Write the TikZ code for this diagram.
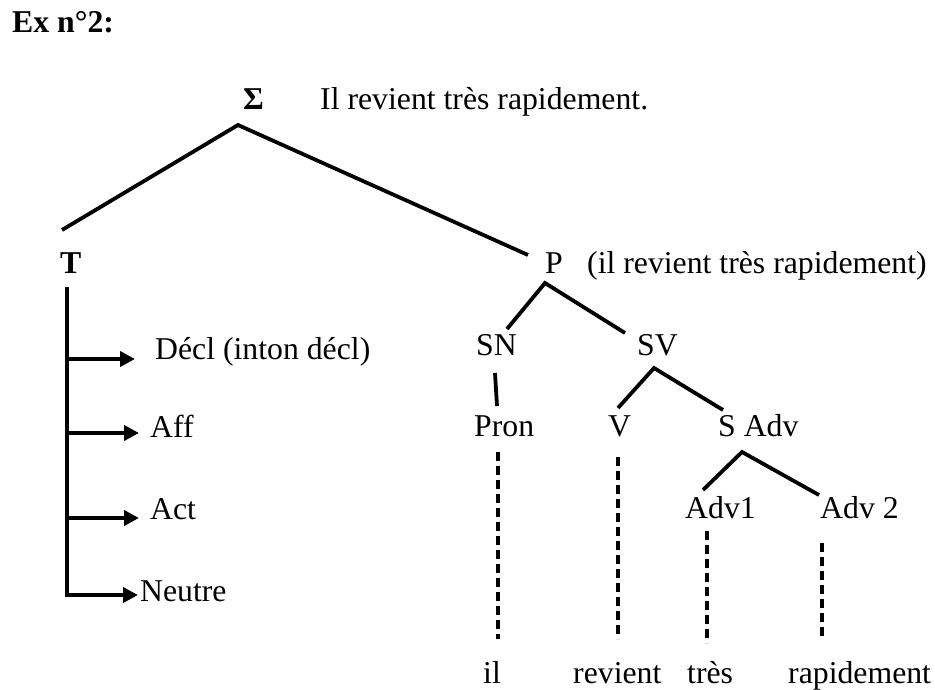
\documentclass[tikz,border=0pt]{standalone}
\usepackage{fontspec}
\setmainfont{Liberation Serif}
\usetikzlibrary{arrows.meta}
\begin{document}
\begin{tikzpicture}[x=1pt,y=-1pt,
  lbl/.style={anchor=base west,inner sep=0pt,font=\fontsize{31.75}{38}\selectfont},
  bl/.style={anchor=base west,inner sep=0pt,font=\fontsize{31.75}{38}\selectfont\bfseries},
  edge/.style={line width=3.8pt},
  dashline/.style={line width=3.6pt,dash pattern=on 9pt off 5pt},
  arr/.style={line width=3.8pt,-{Triangle[length=15pt,width=15pt]}}]
\useasboundingbox (0,0) rectangle (935,690);
% texts
\node[bl] (ex) at (12,33) {Ex n°2:};
\node[bl] (sigma) at (243,110) {Σ};
\node[lbl] (sent) at (320,110) {Il revient très rapidement.};
\node[bl] (T) at (60,273) {T};
\node[lbl] (P) at (545,273) {P};
\node[lbl] (Pgl) at (587,273) {(il revient très rapidement)};
\node[lbl] (SN) at (476,355) {SN};
\node[lbl] (SV) at (637,355) {SV};
\node[lbl] (Pron) at (474,436) {Pron};
\node[lbl] (V) at (608,436) {V};
\node[lbl] (SAdv) at (718,436) {S Adv};
\node[lbl] (Adv1) at (685,518) {Adv1};
\node[lbl] (Adv2) at (820,518) {Adv 2};
\node[lbl] (il) at (483,683) {il};
\node[lbl] (revient) at (573,683) {revient};
\node[lbl] (tres) at (687,683) {très};
\node[lbl] (rapid) at (788,683) {rapidement};
\node[lbl] (decl) at (155,359) {Décl (inton décl)};
\node[lbl] (aff) at (150,437) {Aff};
\node[lbl] (act) at (150,519) {Act};
\node[lbl] (neutre) at (140,601) {Neutre};
% connector ends
\coordinate (sigB) at (238,125);
\coordinate (Tt) at (62,230);
\coordinate (Pt) at (528,255);
\coordinate (Tl) at (67,287);
\coordinate (Tc) at (67,595);
\coordinate (Td) at (67,359);
\coordinate (Ta) at (67,433);
\coordinate (Tac) at (67,518);
\coordinate (declA) at (135,359);
\coordinate (affA) at (139,433);
\coordinate (actA) at (139,518);
\coordinate (neuA) at (138,595);
\coordinate (PB) at (545,283);
\coordinate (SNt) at (507,329);
\coordinate (SVt) at (625,333);
\coordinate (SNb) at (495,373);
\coordinate (Pront) at (497,406);
\coordinate (SVb) at (654,368);
\coordinate (Vt) at (618,408);
\coordinate (SAt) at (723,410);
\coordinate (SAb) at (742,452);
\coordinate (A1t) at (703,490);
\coordinate (A2t) at (819,495);
\coordinate (d1a) at (498,452); \coordinate (d1b) at (498,639);
\coordinate (d2a) at (618,457); \coordinate (d2b) at (618,639);
\coordinate (d3a) at (707,531); \coordinate (d3b) at (707,643);
\coordinate (d4a) at (822,543); \coordinate (d4b) at (822,640);
% tree edges
\draw[edge] (Tt) -- (sigB) -- (Pt);
\draw[edge] (SNt) -- (PB) -- (SVt);
\draw[edge] (SNb) -- (Pront);
\draw[edge] (Vt) -- (SVb) -- (SAt);
\draw[edge] (A1t) -- (SAb) -- (A2t);
% dashed
\draw[dashline] (d1a) -- (d1b);
\draw[dashline] (d2a) -- (d2b);
\draw[dashline] (d3a) -- (d3b);
\draw[dashline] (d4a) -- (d4b);
% T arrows
\draw[arr] (Tl) -- (Tc) -- (neuA);
\draw[arr] (Td) -- (declA);
\draw[arr] (Ta) -- (affA);
\draw[arr] (Tac) -- (actA);
\end{tikzpicture}
\end{document}
